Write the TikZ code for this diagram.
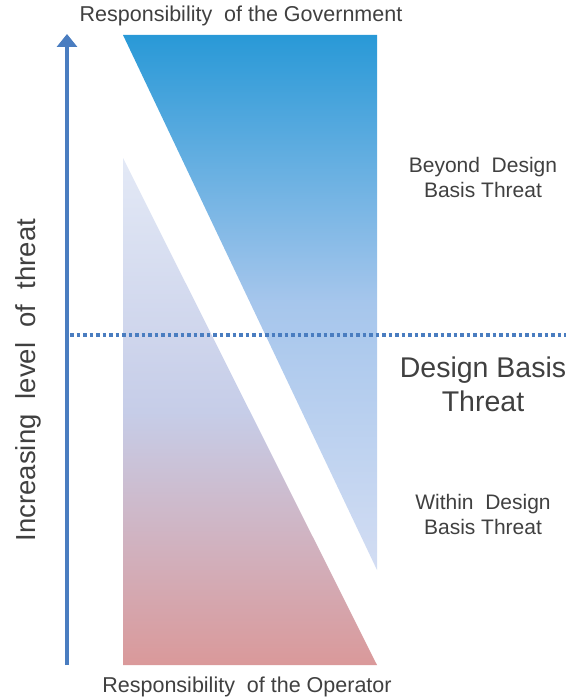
\documentclass[tikz,border=0pt]{standalone}
\usepackage{fontspec}
\setmainfont{Liberation Sans}
\usetikzlibrary{arrows.meta}
\definecolor{govtop}{HTML}{2999D7}
\definecolor{govmid}{HTML}{A6C6EC}
\definecolor{govbot}{HTML}{D3DDF3}
\definecolor{optop}{HTML}{E3E9F6}
\definecolor{opmid}{HTML}{C6CDE8}
\definecolor{opbot}{HTML}{DA999A}
\definecolor{axisblue}{HTML}{4A7DC0}
\definecolor{txtgray}{HTML}{404040}
\begin{document}
\begin{tikzpicture}[x=1pt,y=-1pt,
  lbl/.style={text=txtgray,align=center,inner sep=0pt,font=\fontsize{21}{25}\selectfont},
  biglbl/.style={lbl,font=\fontsize{28.5}{34}\selectfont}]
  \useasboundingbox (0,0) rectangle (569,698);
  % the two responsibility wedges
  \shade[top color=govtop,bottom color=govbot,middle color=govmid] (123,35) -- (377,35) -- (377,570) -- cycle;
  \shade[top color=optop,bottom color=opbot,middle color=opmid] (123,158) -- (123,665) -- (377,665) -- cycle;
  % threat axis and the design basis line
  \coordinate (axisbot) at (67,665);
  \coordinate (axistop) at (67,34);
  \draw[axisblue,line width=4.5pt,-{Triangle[length=13pt,width=20pt]}] (axisbot) -- (axistop);
  \coordinate (dbtL) at (70,335);
  \coordinate (dbtR) at (566,335);
  \draw[axisblue,line width=3.5pt,dash pattern=on 3.5pt off 3pt] (dbtL) -- (dbtR);
  % labels
  \node[lbl,rotate=90,font=\fontsize{27.5}{30}\selectfont] (threat) at (28,380) {Increasing\ \ level\ \ of\ \ threat};
  \node[lbl,font=\fontsize{21.5}{25}\selectfont] (gov) at (241,16) {Responsibility\ \ of the Government};
  \node[lbl,font=\fontsize{21.5}{25}\selectfont] (oper) at (247,687) {Responsibility\ \ of the Operator};
  \node[lbl] (beyond) at (483,177) {Beyond\ \ Design\\Basis Threat};
  \node[biglbl] (dbt) at (483,384) {Design Basis\\Threat};
  \node[lbl] (within) at (483,514) {Within\ \ Design\\Basis Threat};
\end{tikzpicture}
\end{document}
